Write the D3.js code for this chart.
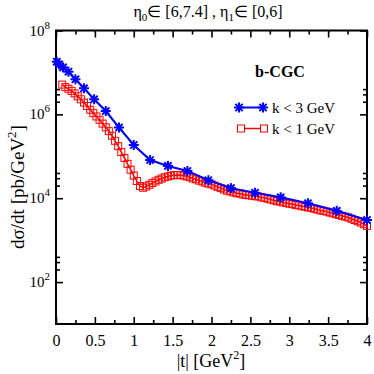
<!DOCTYPE html>
<html><head><meta charset="utf-8">
<script src="https://cdn.jsdelivr.net/npm/d3@7"></script>
<style>body{margin:0;background:#fff}svg{display:block}svg text{font-family:'Liberation Serif';fill:#000}</style>
</head><body><svg id="c" width="374" height="374"></svg>
<script>
// ---- data ----
const blueT = [0.01,0.04,0.09,0.16,0.25,0.36,0.49,0.64,0.81,1.00,1.21,1.44,1.69,1.96,2.25,2.56,2.89,3.24,3.61,4.00];
const blueV = [1.80e7,1.56e7,1.32e7,1.04e7,6.86e6,4.19e6,2.29e6,1.20e6,4.86e5,1.86e5,8.13e4,5.89e4,4.47e4,2.69e4,1.74e4,1.35e4,1.05e4,7.59e3,5.01e3,3.02e3];
const redT = [0.08,0.12,0.16,0.20,0.24,0.28,0.32,0.36,0.40,0.44,0.48,0.52,0.56,0.60,0.64,0.68,0.72,0.76,0.80,0.84,0.88,0.92,0.96,1.00,
  1.04,1.08,1.12,1.16,1.20,1.24,1.28,1.32,1.36,1.40,1.44,1.48,1.52,1.56,1.60,1.64,1.68,1.72,1.76,1.80,1.84,1.88,1.92,1.96,2.00,
  2.04,2.08,2.12,2.16,2.20,2.24,2.28,2.32,2.36,2.40,2.44,2.48,2.52,2.56,2.60,2.64,2.68,2.72,2.76,2.80,2.84,2.88,2.92,2.96,3.00,
  3.04,3.08,3.12,3.16,3.20,3.24,3.28,3.32,3.36,3.40,3.44,3.48,3.52,3.56,3.60,3.64,3.68,3.72,3.76,3.80,3.84,3.88,3.92,3.96,4.00];
const redV = [5.13e6,4.47e6,4.07e6,3.63e6,3.16e6,2.69e6,2.29e6,1.91e6,1.58e6,1.29e6,1.07e6,8.91e5,7.41e5,6.03e5,4.90e5,3.98e5,3.09e5,2.34e5,1.74e5,1.26e5,9.12e4,6.61e4,4.79e4,3.47e4,
  2.57e4,1.95e4,1.78e4,1.91e4,2.09e4,2.29e4,2.51e4,2.75e4,2.95e4,3.16e4,3.31e4,3.47e4,3.55e4,3.59e4,3.55e4,3.47e4,3.31e4,3.16e4,2.95e4,2.82e4,2.63e4,2.51e4,2.34e4,2.24e4,2.14e4,
  2.00e4,1.86e4,1.74e4,1.62e4,1.51e4,1.45e4,1.38e4,1.32e4,1.29e4,1.23e4,1.20e4,1.17e4,1.15e4,1.12e4,1.10e4,1.05e4,1.02e4,9.77e3,9.33e3,8.91e3,8.51e3,8.32e3,7.94e3,7.76e3,7.41e3,
  7.24e3,6.92e3,6.76e3,6.46e3,6.31e3,6.03e3,5.89e3,5.62e3,5.37e3,5.13e3,5.01e3,4.79e3,4.57e3,4.37e3,4.17e3,3.98e3,3.80e3,3.63e3,3.47e3,3.24e3,3.02e3,2.82e3,2.63e3,2.40e3,2.19e3];
const xMajor = [0,0.5,1,1.5,2,2.5,3,3.5,4];
const xMinor = [0.25,0.75,1.25,1.75,2.25,2.75,3.25,3.75];
const yMajor = [1e2,1e4,1e6,1e8];
const yMajorExp = ["2","4","6","8"];
const yMinor = [2e2,3e2,4e2,2e4,3e4,4e4,2e6,3e6,4e6];
const seriesNames = ["k < 3 GeV","k < 1 GeV"];

// ---- chart ----
const svg = d3.select("#c");
const L=56, R=367, T=30.5, B=324;
const x = d3.scaleLinear().domain([0,4]).range([L,R]);
const y = d3.scaleLog().domain([10,1e8]).range([B,T]);

function axisStyle(g){ g.attr("font-family",null); g.select(".domain").remove(); g.selectAll("line").attr("stroke","#000").attr("stroke-width",1.6); }
svg.append("g").attr("transform",`translate(0,${B})`).call(d3.axisBottom(x).tickValues(xMajor).tickSize(-7).tickFormat(d=>d).tickPadding(11)).call(axisStyle)
  .call(g=>g.selectAll("text").attr("font-size",16).attr("fill","#000"));
svg.append("g").attr("transform",`translate(0,${B})`).call(d3.axisBottom(x).tickValues(xMinor).tickSize(-4).tickFormat("")).call(axisStyle);
svg.append("g").attr("transform",`translate(0,${T})`).call(d3.axisTop(x).tickValues(xMajor).tickSize(-7).tickFormat("")).call(axisStyle);
svg.append("g").attr("transform",`translate(0,${T})`).call(d3.axisTop(x).tickValues(xMinor).tickSize(-4).tickFormat("")).call(axisStyle);
svg.append("g").attr("transform",`translate(${L},0)`).call(d3.axisLeft(y).tickValues(yMajor).tickSize(-7).tickFormat("")).call(axisStyle);
svg.append("g").attr("transform",`translate(${L},0)`).call(d3.axisLeft(y).tickValues(yMinor).tickSize(-4).tickFormat("")).call(axisStyle);
svg.append("g").attr("transform",`translate(${R},0)`).call(d3.axisRight(y).tickValues(yMajor).tickSize(-7).tickFormat("")).call(axisStyle);
svg.append("g").attr("transform",`translate(${R},0)`).call(d3.axisRight(y).tickValues(yMinor).tickSize(-4).tickFormat("")).call(axisStyle);

// y labels 10^n
yMajor.forEach((v,i)=>{
  const t = svg.append("text").attr("x",L-6).attr("y",y(v)+5).attr("text-anchor","end").attr("font-size",15);
  t.append("tspan").text("10");
  t.append("tspan").attr("dy",-7).attr("font-size",11).text(yMajorExp[i]);
});

// frame
svg.append("rect").attr("x",L).attr("y",T).attr("width",R-L).attr("height",B-T).attr("fill","none").attr("stroke","#000").attr("stroke-width",2);

// red series
const red = redT.map((t,i)=>[t,redV[i]]);
const blue = blueT.map((t,i)=>[t,blueV[i]]);
const line = d3.line().x(d=>x(d[0])).y(d=>y(d[1]));
svg.append("path").attr("d",line(red)).attr("fill","none").attr("stroke","#ff0000").attr("stroke-width",1.5);
svg.append("g").selectAll("rect").data(red).join("rect")
  .attr("x",d=>x(d[0])-3.5).attr("y",d=>y(d[1])-3.5).attr("width",7).attr("height",7)
  .attr("fill","none").attr("stroke","#ff0000").attr("stroke-width",1);

// blue series
function star(g,cx,cy){
  const r=5;
  [[r,0],[0,r],[r*0.72,r*0.72],[r*0.72,-r*0.72]].forEach(([dx,dy])=>{
    g.append("line").attr("x1",cx-dx).attr("y1",cy-dy).attr("x2",cx+dx).attr("y2",cy+dy)
      .attr("stroke","#0000ff").attr("stroke-width",2);
  });
}
svg.append("path").attr("d",line(blue)).attr("fill","none").attr("stroke","#0000ff").attr("stroke-width",2);
const bg = svg.append("g");
blue.forEach(d=>star(bg,x(d[0]),y(d[1])));

// legend
svg.append("text").attr("x",280).attr("y",77).attr("text-anchor","middle").attr("font-size",16).attr("font-weight","bold").text("b-CGC");
svg.append("line").attr("x1",239).attr("x2",263).attr("y1",107.5).attr("y2",107.5).attr("stroke","#0000ff").attr("stroke-width",2);
star(svg,239,107.5); star(svg,263,107.5);
svg.append("text").attr("x",272).attr("y",113).attr("font-size",15).text(seriesNames[0]);
svg.append("line").attr("x1",241).attr("x2",264).attr("y1",128.5).attr("y2",128.5).attr("stroke","#ff0000").attr("stroke-width",1.5);
[241,264].forEach(cx=>svg.append("rect").attr("x",cx-3.5).attr("y",125).attr("width",7).attr("height",7).attr("fill","#fff").attr("stroke","#ff0000").attr("stroke-width",1));
svg.append("text").attr("x",272).attr("y",134).attr("font-size",15).text(seriesNames[1]);

// title
const tt = svg.append("text").attr("x",208).attr("y",17).attr("text-anchor","middle").attr("font-size",16);
tt.append("tspan").text("η");
tt.append("tspan").attr("dy",4).attr("font-size",11).text("0");
tt.append("tspan").attr("dy",-4).text("∈ [6,7.4] , η");
tt.append("tspan").attr("dy",4).attr("font-size",11).text("1");
tt.append("tspan").attr("dy",-4).text("∈ [0,6]");

// axis titles
const xt = svg.append("text").attr("x",211).attr("y",367).attr("text-anchor","middle").attr("font-size",18);
xt.append("tspan").text("|t| [GeV");
xt.append("tspan").attr("dy",-8).attr("font-size",12).text("2");
xt.append("tspan").attr("dy",8).text("]");
const yt = svg.append("text").attr("transform","translate(24,187) rotate(-90)").attr("text-anchor","middle").attr("font-size",19);
yt.append("tspan").text("dσ/dt [pb/GeV");
yt.append("tspan").attr("dy",-8).attr("font-size",13).text("2");
yt.append("tspan").attr("dy",8).text("]");
</script></body></html>
